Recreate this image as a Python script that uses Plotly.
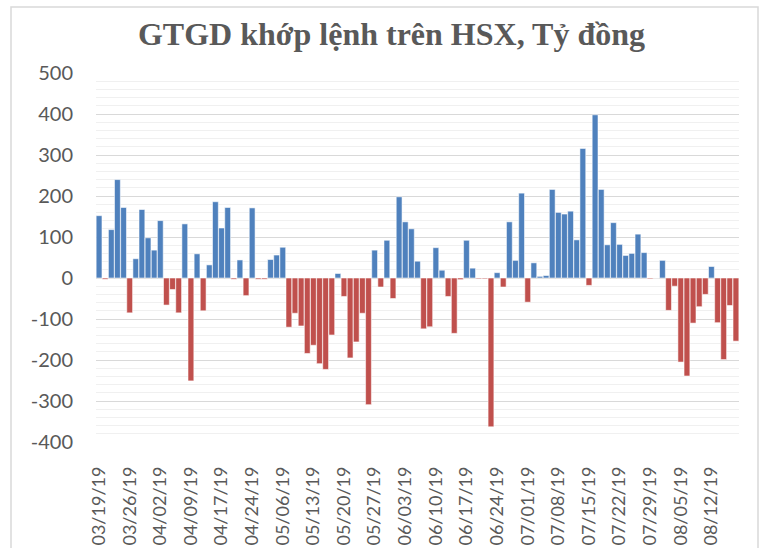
import plotly.graph_objects as go

# Trading days (month -> day list), 03/19/19 .. 08/16/19
month_days = {
    "03": [19, 20, 21, 22, 25, 26, 27, 28, 29],
    "04": [1, 2, 3, 4, 5, 8, 9, 10, 11, 12, 16, 17, 18, 19, 22, 23, 24, 25, 26],
    "05": [2, 3, 6, 7, 8, 9, 10, 13, 14, 15, 16, 17, 20, 21, 22, 23, 24, 27, 28, 29, 30, 31],
    "06": [3, 4, 5, 6, 7, 10, 11, 12, 13, 14, 17, 18, 19, 20, 21, 24, 25, 26, 27, 28],
    "07": [1, 2, 3, 4, 5, 8, 9, 10, 11, 12, 15, 16, 17, 18, 19, 22, 23, 24, 25, 26, 29, 30, 31],
    "08": [1, 2, 5, 6, 7, 8, 9, 12, 13, 14, 15, 16],
}
dates = [f"{m}/{d:02d}/19" for m, ds in month_days.items() for d in ds]

values = [
    152, -3, 118, 240, 172, -85, 47, 167, 98, 68,
    140, -66, -28, -85, 132, -251, 59, -80, 32, 186,
    122, 172, -3, 44, -43, 171, -3, -3, 45, 56,
    75, -120, -86, -117, -184, -164, -209, -223, -139, 11,
    -45, -195, -156, -86, -309, 68, -22, 92, -50, 198,
    137, 120, 41, -124, -119, 74, 19, -45, -135, -4,
    92, 24, -2, -2, -363, 13, -22, 137, 43, 207,
    -59, 37, 4, 6, 216, 160, 156, 163, 93, 316,
    -18, 398, 216, 81, 135, 82, 55, 60, 107, 62,
    -2, 0, 43, -79, -20, -205, -239, -110, -70, -40,
    28, -109, -199, -67, -154,
]

x_tick_labels = [
    "03/19/19", "03/26/19", "04/02/19", "04/09/19", "04/17/19", "04/24/19",
    "05/06/19", "05/13/19", "05/20/19", "05/27/19", "06/03/19", "06/10/19",
    "06/17/19", "06/24/19", "07/01/19", "07/08/19", "07/15/19", "07/22/19",
    "07/29/19", "08/05/19", "08/12/19",
]
y_tick_values = [-400, -300, -200, -100, 0, 100, 200, 300, 400, 500]
y_tick_labels = ["-400", "-300", "-200", "-100", "0", "100", "200", "300", "400", "500"]

title_text = "GTGD khớp lệnh trên HSX, Tỷ đồng"

BLUE = "#4F81BD"
RED = "#C0504D"
colors = [BLUE if v >= 0 else RED for v in values]

fig = go.Figure()
fig.add_trace(go.Bar(
    x=dates, y=values,
    marker=dict(color=colors, line=dict(color="rgba(255,255,255,0.55)", width=1)),
    showlegend=False,
))

W, H = 766, 548
L, R, T, B = 96, 27, 73, 106
pw, ph = W - L - R, H - T - B


def px_x(p):
    return (p - L) / pw


def px_y(p):
    return (H - B - p) / ph


fig.update_layout(
    width=W, height=H,
    margin=dict(l=L, r=R, t=T, b=B),
    paper_bgcolor="white", plot_bgcolor="white",
    bargap=0.05,
    title=dict(
        text=title_text,
        x=391.5 / W, xref="container", xanchor="center",
        y=1 - 34 / H, yref="container", yanchor="middle",
        font=dict(family="Liberation Serif", size=32, color="#595959", weight="bold"),
    ),
    xaxis=dict(
        type="category",
        tickmode="array", tickvals=x_tick_labels, ticktext=x_tick_labels,
        tickangle=-90,
        tickfont=dict(family="Lato", size=18, color="#595959"),
        ticklabelstandoff=20,
        showgrid=False, showline=False, zeroline=False,
        range=[-0.5, len(dates) - 0.5],
        automargin=False,
    ),
    yaxis=dict(
        range=[-400, 500],
        tickmode="array", tickvals=y_tick_values, ticktext=y_tick_labels,
        tickfont=dict(family="Lato", size=20, color="#595959"),
        ticklabelstandoff=22,
        showgrid=True, gridcolor="#D9D9D9", gridwidth=1.3,
        minor=dict(dtick=20, tick0=0, showgrid=True, gridcolor="#F0F0F0", gridwidth=1.3),
        zeroline=False, showline=False,
        layer="below traces",
        automargin=False,
    ),
    shapes=[dict(
        type="rect", xref="paper", yref="paper",
        x0=px_x(11), x1=px_x(758), y0=px_y(575), y1=px_y(7),
        line=dict(color="#D9D9D9", width=1.5), fillcolor="rgba(0,0,0,0)",
        layer="below",
    )],
)

fig.write_html(
    "out.html",
    config={"displayModeBar": False},
    post_script="document.body.style.margin='0';document.body.style.overflow='hidden';",
)
